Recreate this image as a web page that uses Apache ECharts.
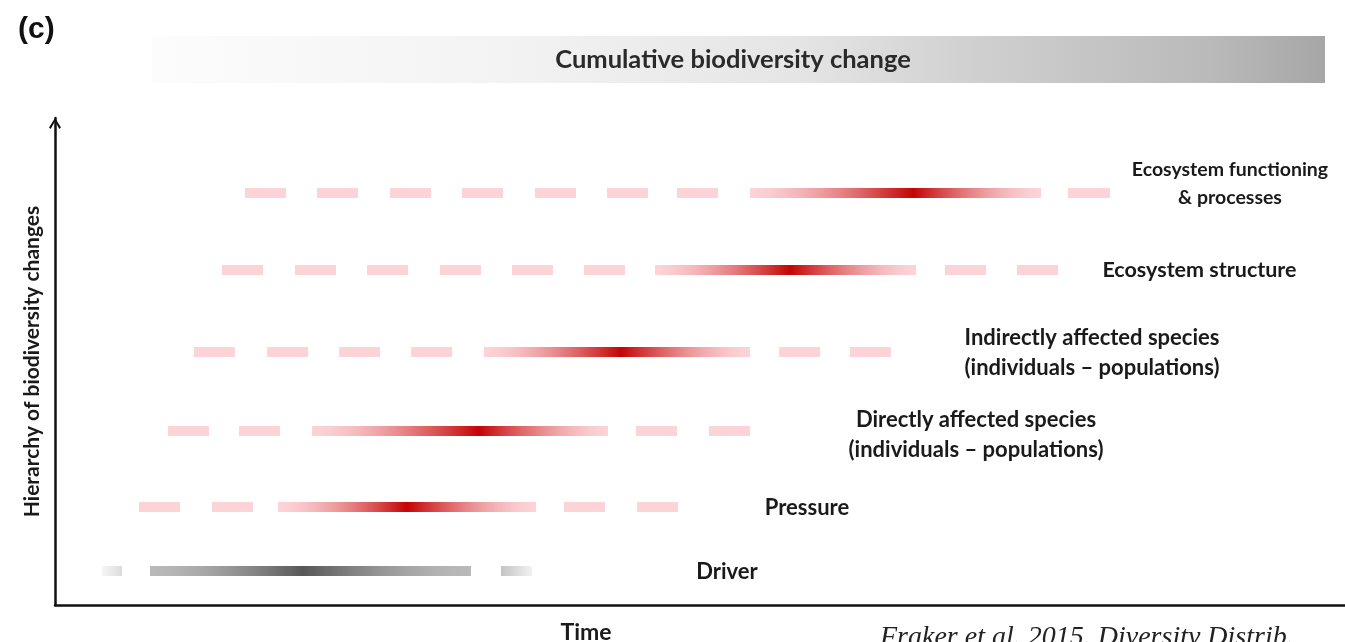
<!DOCTYPE html>
<html>
<head>
<meta charset="utf-8">
<script src="https://cdn.jsdelivr.net/npm/echarts@6/dist/echarts.min.js"></script>
<style>
html,body{margin:0;padding:0;background:#fff;}
#main{width:1345px;height:642px;}
</style>
</head>
<body>
<div id="main"></div>
<script>
// ---------------- DATA ----------------
// x = time units, y = position in the hierarchy
const levelNames = [
  'Driver',
  'Pressure',
  'Directly affected species\n(individuals – populations)',
  'Indirectly affected species\n(individuals – populations)',
  'Ecosystem structure',
  'Ecosystem functioning\n& processes'
];
const levelValues = [3.4, 9.8, 17.4, 25.3, 33.5, 41.2];

// pulse of change: [start, peak, end]
const driverPulse      = [9.5, 24.8, 41.6];
const pressurePulse    = [22.3, 35.2, 48.1];
const directPulse      = [25.7, 42.4, 55.3];
const indirectPulse    = [42.9, 56.6, 69.5];
const structurePulse   = [60.0, 73.5, 86.1];
const functioningPulse = [69.5, 85.8, 98.6];

// background (dashed) presence: [start, end]
const driverDashes      = [[4.7, 6.7], [44.6, 47.7]];
const pressureDashes    = [[8.4, 12.5], [15.7, 19.8], [50.9, 55.0], [58.2, 62.3]];
const directDashes      = [[11.3, 15.4], [18.4, 22.5], [58.1, 62.2], [65.4, 69.5]];
const indirectDashes    = [[13.9, 18.0], [21.2, 25.3], [28.4, 32.5], [35.6, 39.7], [72.4, 76.5], [79.5, 83.6]];
const structureDashes   = [[16.7, 20.8], [24.0, 28.1], [31.2, 35.3], [38.5, 42.6], [45.7, 49.8], [52.9, 57.0], [89.0, 93.1], [96.2, 100.3]];
const functioningDashes = [[19.0, 23.1], [26.2, 30.3], [33.5, 37.6], [40.7, 44.8], [48.0, 52.1], [55.2, 59.3], [62.2, 66.3], [101.3, 105.5]];

const bannerText = 'Cumulative biodiversity change';
const xAxisTitle = 'Time';
const yAxisTitle = 'Hierarchy of biodiversity changes';
const panelTag = '(c)';
const sourceText = 'Fraker et al. 2015. Diversity Distrib.';

// ---------------- LAYOUT / STYLE ----------------
const labelX  = [67.2, 75.2, 92.1, 103.7, 114.45, 117.5];
const labelDy = [1, 1, 4, 1, 0, -9];
const labelFont = [22, 22, 22, 22, 21.5, 19.5];
const labelLH = [30, 30, 30, 30, 30, 28];
const FONT = 'Lato, "Open Sans", sans-serif';
const BAR_H = 10;
const PINK = '#fcd3d7', RED = '#c40404', GREY_END = '#b9b9b9', GREY_PEAK = '#575757';

const groups = [
  {dashes: driverDashes, pulse: driverPulse, tone: 1},
  {dashes: pressureDashes, pulse: pressurePulse, tone: 0},
  {dashes: directDashes, pulse: directPulse, tone: 0},
  {dashes: indirectDashes, pulse: indirectPulse, tone: 0},
  {dashes: structureDashes, pulse: structurePulse, tone: 0},
  {dashes: functioningDashes, pulse: functioningPulse, tone: 0}
];

function hex(h){h=h.replace('#','');return [parseInt(h.substr(0,2),16),parseInt(h.substr(2,2),16),parseInt(h.substr(4,2),16)];}
function mix(c0,c1,w){const a=hex(c0),b=hex(c1);return 'rgb('+a.map((v,i)=>Math.round(v+(b[i]-v)*w)).join(',')+')';}
function pulseGradient(s,p,e,c0,c1){
  const stops=[];const N=48;
  const pts=[];for(let i=0;i<=N;i++)pts.push(i/N);pts.push((p-s)/(e-s));pts.sort((x,y)=>x-y);
  pts.forEach(t=>{
    const x=s+t*(e-s);
    const f=x<p?(p-x)/(p-s):(x-p)/(e-p);
    const w=Math.pow(1-Math.min(1,Math.max(0,f)),1.6);
    stops.push({offset:t,color:mix(c0,c1,w)});
  });
  return new echarts.graphic.LinearGradient(0,0,1,0,stops);
}

const barData = [];
groups.forEach((g,i)=>{
  const y = levelValues[i];
  g.dashes.forEach(d=>{
    let kind = 0;
    if (g.tone === 1) kind = d[1] < g.pulse[0] ? 2 : 3;
    barData.push([d[0], d[1], y, 0, kind, g.tone]);
  });
  barData.push([g.pulse[0], g.pulse[2], y, g.pulse[1], 1, g.tone]);
});
const labelData = levelValues.map((v,i)=>[labelX[i], v, i]);

const chart = echarts.init(document.getElementById('main'), null, {renderer:'canvas'});
chart.setOption({
  animation:false,
  backgroundColor:'#ffffff',
  grid:{left:55, right:0, top:118, bottom:37},
  xAxis:{type:'value', min:0, max:129, splitLine:{show:false}, axisTick:{show:false}, axisLabel:{show:false},
    axisLine:{show:true, lineStyle:{color:'#111', width:2.5}}},
  yAxis:{type:'value', min:0, max:48.7, splitLine:{show:false}, axisTick:{show:false}, axisLabel:{show:false},
    axisLine:{show:true, lineStyle:{color:'#111', width:2.5},
      symbol:['none','path://M5,0 L10,8 L8.6,9.2 L5,2.8 L1.4,9.2 L0,8 Z'], symbolSize:[13,11], symbolOffset:[0,-5.5]},
    name:yAxisTitle, nameLocation:'middle', nameRotate:90, nameGap:12,
    nameTextStyle:{fontFamily:FONT, fontWeight:'bold', fontSize:21, color:'#1a1a1a'}},
  series:[
    {type:'custom', coordinateSystem:'cartesian2d', data:barData, encode:{x:[0,1], y:2}, silent:true,
      renderItem:function(params, api){
        const s=api.value(0), e=api.value(1), y=api.value(2), p=api.value(3), kind=api.value(4), tone=api.value(5);
        const a=api.coord([s,y]), b=api.coord([e,y]);
        let fill;
        if(kind===1) fill=pulseGradient(s,p,e,tone?GREY_END:PINK,tone?GREY_PEAK:RED);
        else if(kind===0) fill=PINK;
        else if(kind===2) fill=new echarts.graphic.LinearGradient(0,0,1,0,[{offset:0,color:'#f6f6f6'},{offset:1,color:'#dcdcdc'}]);
        else fill=new echarts.graphic.LinearGradient(0,0,1,0,[{offset:0,color:'#c3c3c3'},{offset:1,color:'#f2f2f2'}]);
        return {type:'rect', shape:{x:a[0], y:a[1]-BAR_H/2, width:b[0]-a[0], height:BAR_H}, style:{fill:fill}};
      }},
    {type:'custom', coordinateSystem:'cartesian2d', data:labelData, encode:{x:0, y:1}, silent:true,
      renderItem:function(params, api){
        const i=api.value(2);
        const c=api.coord([api.value(0), api.value(1)]);
        return {type:'text', x:c[0], y:c[1]+labelDy[i], style:{text:levelNames[i], align:'center', verticalAlign:'middle',
          fontFamily:FONT, fontWeight:'bold', fontSize:labelFont[i], lineHeight:labelLH[i], fill:'#1a1a1a'}};
      }}
  ],
  graphic:[
    {type:'rect', left:152, top:36, shape:{width:1173, height:47}, style:{fill:new echarts.graphic.LinearGradient(0,0,1,0,[
      {offset:0,color:'#fcfcfc'},{offset:0.3,color:'#f3f3f3'},{offset:0.55,color:'#e5e5e5'},{offset:0.7,color:'#d0d0d0'},{offset:0.9,color:'#bababa'},{offset:1,color:'#a6a6a6'}])}},
    {type:'text', x:733, y:60, style:{text:bannerText, align:'center', verticalAlign:'middle', fontFamily:FONT, fontWeight:'bold', fontSize:25.5, fill:'#2a2a2a'}},
    {type:'text', x:18, y:30, style:{text:panelTag, align:'left', verticalAlign:'middle', fontFamily:'"Liberation Sans", Arial, sans-serif', fontWeight:'bold', fontSize:30, fill:'#111'}},
    {type:'text', x:586, y:633, style:{text:xAxisTitle, align:'center', verticalAlign:'middle', fontFamily:FONT, fontWeight:'bold', fontSize:23, fill:'#1a1a1a'}},
    {type:'text', x:880, y:652, style:{text:sourceText, align:'left', verticalAlign:'bottom', fontFamily:'"Liberation Serif", serif', fontStyle:'italic', fontSize:28, fill:'#222'}}
  ]
});
</script>
</body>
</html>
